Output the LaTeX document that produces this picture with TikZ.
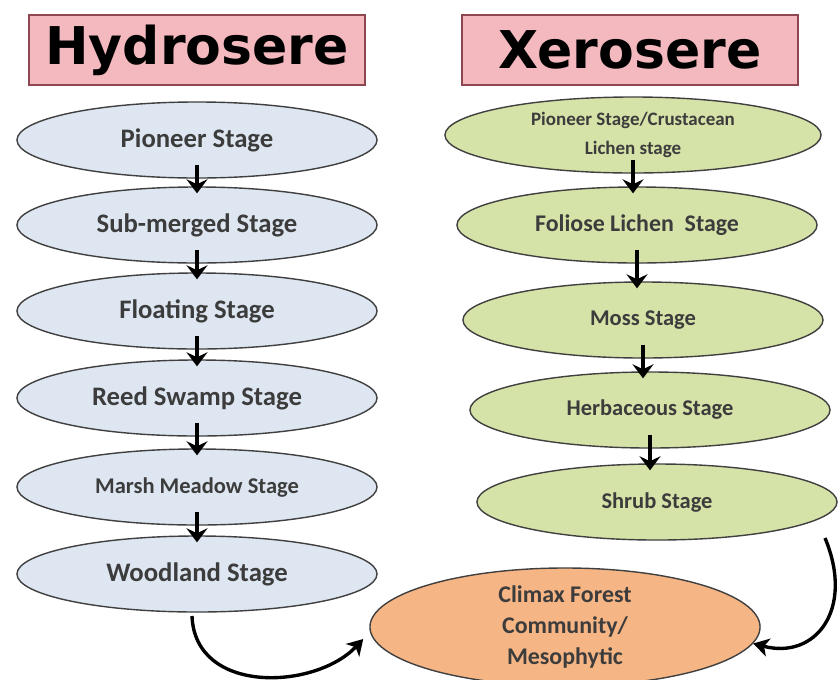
\documentclass[tikz,border=0pt]{standalone}
\usepackage{fontspec}
\setmainfont{Carlito}
\newfontfamily\titlefont{DejaVu Sans}
\usetikzlibrary{shapes.geometric,arrows.meta,calc}
\definecolor{titlepink}{HTML}{F3B9BE}
\definecolor{titleedge}{HTML}{8E4750}
\definecolor{hydrofill}{HTML}{DDE6F1}
\definecolor{xerofill}{HTML}{D6E3A8}
\definecolor{climaxfill}{HTML}{F6B584}
\definecolor{stagetext}{HTML}{3C3C3C}
\begin{document}
\begin{tikzpicture}[x=0.025cm, y=-0.025cm,
    titlebox/.style={draw=titleedge, fill=titlepink, line width=1.2pt,
      minimum width=8.4cm, minimum height=1.75cm, inner sep=0pt,
      font=\titlefont\bfseries\fontsize{37}{40}\selectfont},
    stage/.style={ellipse, draw=black!75, line width=1pt, inner sep=0pt,
      minimum width=9cm, minimum height=1.9cm, text=stagetext,
      font=\bfseries\fontsize{19}{21}\selectfont, align=center},
    hydro/.style={stage, fill=hydrofill},
    xero/.style={stage, fill=xerofill},
    stagearrow/.style={-{Stealth[length=10pt, width=15pt, inset=3.5pt]}, line width=2.6pt,
      shorten <=-10pt, shorten >=-5pt},
    bendarrow/.style={-{Stealth[length=11pt, width=13pt, inset=3pt]}, line width=2.4pt}]
    \useasboundingbox (0,0) rectangle (840,679);

    % Titles
    \node[titlebox] (hydrotitle) at (197,50) {Hydrosere};
    \node[titlebox] (xerotitle) at (630,50) {Xerosere};

    % Hydrosere stages
    \node[hydro] (pioneer) at (197,140) {Pioneer Stage};
    \node[hydro] (submerged) at (197,225) {Sub-merged Stage};
    \node[hydro] (floating) at (197,311) {Floating Stage};
    \node[hydro] (reed) at (197,398) {Reed Swamp Stage};
    \node[hydro, font=\bfseries\fontsize{16}{18}\selectfont] (marsh) at (197,487) {Marsh Meadow Stage};
    \node[hydro] (woodland) at (197,574) {Woodland Stage};

    % Xerosere stages
    \node[xero, minimum width=9.4cm, font=\bfseries\fontsize{13.5}{20}\selectfont] (crust) at (633,135)
      {Pioneer Stage/Crustacean\\Lichen stage};
    \node[xero, font=\bfseries\fontsize{17}{19}\selectfont] (foliose) at (637,225) {Foliose Lichen\ \ Stage};
    \node[xero, font=\bfseries\fontsize{16}{18}\selectfont] (moss) at (643,320) {Moss Stage};
    \node[xero, font=\bfseries\fontsize{16}{18}\selectfont] (herb) at (650,410) {Herbaceous Stage};
    \node[xero, font=\bfseries\fontsize{16}{18}\selectfont] (shrub) at (657,502) {Shrub Stage};

    % Climax community
    \node[stage, fill=climaxfill, minimum width=9.75cm, minimum height=2.95cm,
      font=\bfseries\fontsize{17}{22}\selectfont] (climax) at (565,627)
      {Climax Forest\\Community/\\Mesophytic};

    % Stage arrows
    \foreach \a/\b in {pioneer/submerged, submerged/floating, floating/reed,
      reed/marsh, marsh/woodland, crust/foliose, foliose/moss, moss/herb, herb/shrub}
      \draw[stagearrow] (\a.south) -- (\a.south |- \b.north);

    % Curved arrows into the climax
    \coordinate (woodfoot) at (192,616);
    \coordinate (shrubfoot) at (825,538);
    \coordinate (climaxleft) at ($(climax.west)+(-6,12)$);
    \draw[bendarrow] (woodfoot) .. controls (195,695) and (315,690) .. (climaxleft);
    \draw[bendarrow] (shrubfoot) .. controls (855,610) and (815,660) .. (climax.-5);
\end{tikzpicture}
\end{document}
